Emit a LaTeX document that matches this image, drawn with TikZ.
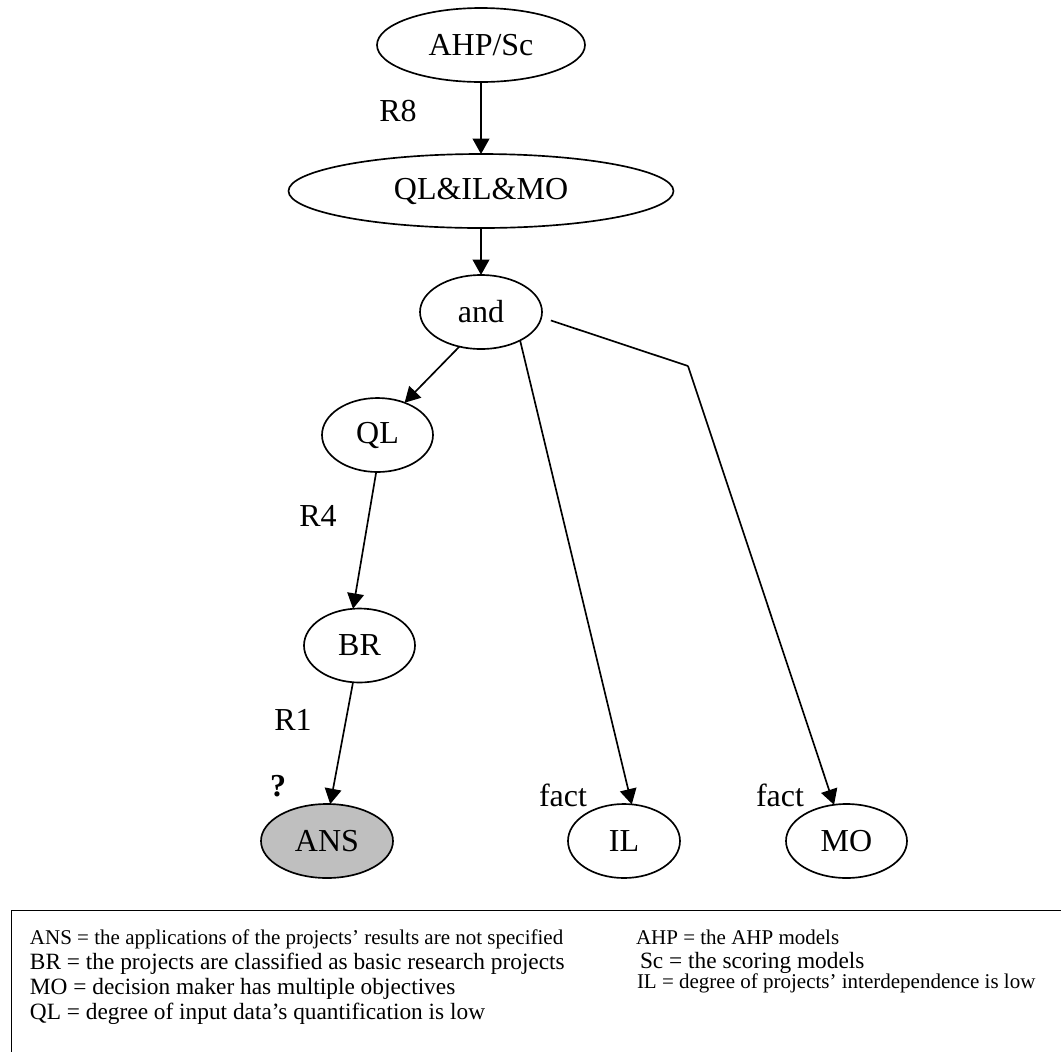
\documentclass[tikz,border=0pt]{standalone}
\usepackage{fontspec}
\setmainfont{Liberation Serif}
\usetikzlibrary{shapes.geometric,arrows.meta}
\begin{document}
\begin{tikzpicture}[x=0.75pt,y=-0.75pt,
  every node/.style={inner sep=0pt,outer sep=0pt},
  oval/.style={ellipse,draw,line width=1.25pt,minimum height=55.5pt,
    font=\fontsize{24}{28}\selectfont},
  lbl/.style={font=\fontsize{24}{28}\selectfont},
  edge/.style={line width=1.25pt,-{Triangle[length=11.5pt,width=12.5pt]}},
  plain/.style={line width=1.25pt},
  keybig/.style={anchor=base west,font=\fontsize{17.5}{20}\selectfont},
  keysmall/.style={anchor=base west,font=\fontsize{15.75}{18}\selectfont}]
\useasboundingbox (0,0) rectangle (1061,1051);

% inference tree
\node[oval,minimum width=156pt]    (ahp)  at (481,45)  {AHP/Sc};
\node[oval,minimum width=288.75pt] (qlim) at (481,191) {QL\&IL\&MO};
\node[oval,minimum width=91.5pt]   (and)  at (481,312) {and};
\node[oval,minimum width=83.25pt]  (ql)   at (377.5,435) {QL};
\node[oval,minimum width=83.25pt]  (br)   at (359.5,645.5) {BR};
\node[oval,minimum width=99pt,fill=black!25] (ans) at (327,841) {ANS};
\node[oval,minimum width=84pt]     (il)   at (624,841) {IL};
\node[oval,minimum width=90.75pt]  (mo)   at (846.5,841) {MO};
\coordinate (bend) at (688,366);

% rule and fact labels
\node[lbl] (r8) at (398,111) {R8};
\node[lbl] (r4) at (318,516) {R4};
\node[lbl] (r1) at (293,720) {R1};
\node[lbl,font=\fontsize{24}{28}\selectfont\bfseries] (q) at (278,786.5) {?};
\node[lbl] (f1) at (563,795) {fact};
\node[lbl] (f2) at (780,795) {fact};

% connectors
\draw[edge] (ahp) -- (qlim);
\draw[edge] (qlim) -- (and);
\draw[edge] (and.238) -- (ql.50);
\draw[edge] (ql.-92) -- (br.100);
\draw[edge] (br.-100) -- (ans.85);
\draw[edge] (and.-36) -- (il.78);
\draw[plain,shorten <=7.5pt] (and.-5) -- (bend);
\draw[edge] (bend) -- (mo.109);

% legend
\draw[line width=0.75pt] (11,1060) -- (11,910) -- (1070,910);
\node[keysmall] (k1) at (30,944) {ANS = the applications of the projects’ results are not specified};
\node[keybig]   (k2) at (30,969) {BR = the projects are classified as basic research projects};
\node[keybig]   (k3) at (30,994) {MO = decision maker has multiple objectives};
\node[keybig]   (k4) at (30,1019) {QL = degree of input data’s quantification is low};
\node[keysmall] (k5) at (636,944) {AHP = the AHP models};
\node[keybig]   (k6) at (640,968) {Sc = the scoring models};
\node[keysmall] (k7) at (637,988) {IL = degree of projects’ interdependence is low};
\end{tikzpicture}
\end{document}
